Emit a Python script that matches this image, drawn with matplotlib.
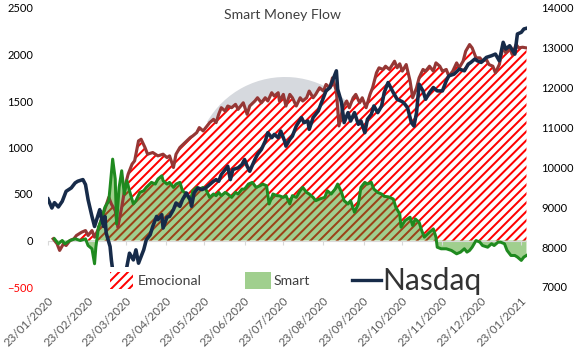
import matplotlib
matplotlib.use('Agg')
import matplotlib.pyplot as plt
from matplotlib.patches import Rectangle, Wedge
from matplotlib.lines import Line2D
from matplotlib.transforms import IdentityTransform, ScaledTranslation
import matplotlib.dates as mdates
import pandas as pd
import numpy as np

# ---------------- data ----------------
nasdaq_dates = ['2020-01-23','2020-01-26','2020-01-28','2020-01-31','2020-02-03','2020-02-06','2020-02-10','2020-02-13',
'2020-02-15','2020-02-19','2020-02-21','2020-02-23','2020-02-26','2020-02-28','2020-03-01','2020-03-03','2020-03-04',
'2020-03-06','2020-03-07','2020-03-08','2020-03-11','2020-03-12','2020-03-13','2020-03-16','2020-03-18','2020-03-20',
'2020-03-22','2020-03-24','2020-03-26','2020-03-29','2020-03-31','2020-04-02','2020-04-06','2020-04-08','2020-04-11',
'2020-04-13','2020-04-16','2020-04-17','2020-04-20','2020-04-21','2020-04-24','2020-04-26','2020-04-29','2020-05-01',
'2020-05-04','2020-05-06','2020-05-09','2020-05-12','2020-05-13','2020-05-15','2020-05-18','2020-05-21','2020-05-24',
'2020-05-27','2020-05-30','2020-06-01','2020-06-03','2020-06-05','2020-06-08','2020-06-10','2020-06-12','2020-06-14',
'2020-06-18','2020-06-21','2020-06-23','2020-06-25','2020-06-27','2020-07-01','2020-07-03','2020-07-06','2020-07-09',
'2020-07-11','2020-07-14','2020-07-16','2020-07-19','2020-07-21','2020-07-24','2020-07-25','2020-07-28','2020-07-30',
'2020-08-02','2020-08-06','2020-08-08','2020-08-11','2020-08-12','2020-08-15','2020-08-19','2020-08-23','2020-08-25',
'2020-08-28','2020-08-30','2020-09-02','2020-09-03','2020-09-06','2020-09-08','2020-09-11','2020-09-13','2020-09-16',
'2020-09-19','2020-09-21','2020-09-24','2020-09-26','2020-09-29','2020-10-01','2020-10-04','2020-10-07','2020-10-09',
'2020-10-12','2020-10-16','2020-10-19','2020-10-23','2020-10-25','2020-10-27','2020-10-30','2020-11-01','2020-11-03',
'2020-11-05','2020-11-08','2020-11-10','2020-11-13','2020-11-16','2020-11-19','2020-11-23','2020-11-26','2020-11-28',
'2020-12-02','2020-12-06','2020-12-10','2020-12-13','2020-12-15','2020-12-18','2020-12-20','2020-12-23','2020-12-27',
'2020-12-31','2021-01-03','2021-01-06','2021-01-09','2021-01-11','2021-01-14','2021-01-18','2021-01-20','2021-01-23',
'2021-01-25','2021-01-27']
nasdaq_vals = [9209,8982,9116,9008,9149,9401,9486,9612,
9653,9695,9570,9191,8771,8519,8730,8940,8771,
8519,8771,8353,8015,7680,7428,7150,7050,7000,
7200,7511,7848,7680,7932,7597,7932,8184,8310,
8519,8771,8688,8814,8480,8750,8771,8940,9108,
9024,9191,9360,9191,9024,9360,9486,9443,9486,
9569,9653,9695,9653,9821,9947,10030,9695,9947,
9990,10073,10199,10030,9904,10199,10325,10451,10660,
10872,10746,10829,10746,10912,10660,10534,10703,10786,
11038,11250,11124,11164,10955,11250,11416,11753,11920,
12005,12172,12424,11962,11628,11124,11375,11164,11375,
11081,11164,10872,11207,11333,11542,11375,11542,11879,
12130,11879,11710,11650,11585,11501,11124,11038,11375,
12088,11920,11710,11879,12005,11920,11920,12172,12298,
12340,12466,12424,12592,12635,12718,12676,12635,12761,
12803,12844,12676,13139,12970,13053,12844,13348,13390,
13474,13491]

emo_dates = ['2020-01-27','2020-01-30','2020-02-01','2020-02-04','2020-02-06','2020-02-09','2020-02-12','2020-02-14',
'2020-02-18','2020-02-21','2020-02-23','2020-02-26','2020-02-28','2020-03-02','2020-03-04','2020-03-07','2020-03-10',
'2020-03-12','2020-03-15','2020-03-17','2020-03-20','2020-03-23','2020-03-25','2020-03-28','2020-03-30','2020-04-02',
'2020-04-04','2020-04-07','2020-04-09','2020-04-13','2020-04-17','2020-04-21','2020-04-24','2020-04-26','2020-04-29',
'2020-05-01','2020-05-04','2020-05-08','2020-05-12','2020-05-14','2020-05-17','2020-05-19','2020-05-22','2020-05-24',
'2020-05-27','2020-05-30','2020-06-01','2020-06-03','2020-06-05','2020-06-08','2020-06-10','2020-06-13','2020-06-16',
'2020-06-18','2020-06-22','2020-06-25','2020-06-27','2020-07-01','2020-07-03','2020-07-06','2020-07-09','2020-07-11',
'2020-07-14','2020-07-16','2020-07-19','2020-07-20','2020-07-23','2020-07-25','2020-07-28','2020-07-30','2020-08-02',
'2020-08-05','2020-08-07','2020-08-10','2020-08-12','2020-08-15','2020-08-17','2020-08-20','2020-08-23','2020-08-25',
'2020-08-28','2020-08-30','2020-09-02','2020-09-04','2020-09-07','2020-09-10','2020-09-12','2020-09-15','2020-09-17',
'2020-09-20','2020-09-22','2020-09-25','2020-09-28','2020-09-30','2020-10-03','2020-10-05','2020-10-08','2020-10-10',
'2020-10-13','2020-10-17','2020-10-19','2020-10-21','2020-10-23','2020-10-26','2020-10-29','2020-10-31','2020-11-03',
'2020-11-05','2020-11-08','2020-11-10','2020-11-13','2020-11-16','2020-11-18','2020-11-21','2020-11-23','2020-11-26',
'2020-11-28','2020-12-01','2020-12-04','2020-12-06','2020-12-09','2020-12-11','2020-12-14','2020-12-16','2020-12-19',
'2020-12-22','2020-12-24','2020-12-27','2020-12-29','2021-01-01','2021-01-03','2021-01-06','2021-01-09','2021-01-11',
'2021-01-14','2021-01-16','2021-01-19','2021-01-21','2021-01-24','2021-01-27']
emo_vals = [18,-35,-107,-35,-54,0,18,54,
89,107,54,107,36,125,214,340,464,
393,321,143,357,607,714,821,857,1071,
1089,1000,928,946,910,928,892,910,785,
928,1000,1053,1107,1125,1160,1214,1178,1214,
1267,1303,1267,1357,1428,1392,1446,1428,1464,
1410,1481,1357,1446,1500,1535,1481,1535,1500,
1589,1553,1589,1500,1571,1446,1571,1535,1446,
1535,1500,1535,1607,1535,1571,1642,1607,1678,
1642,1749,1607,1232,1428,1500,1428,1535,1571,
1481,1535,1428,1571,1642,1803,1857,1839,1874,
1839,1928,1857,1900,1821,1892,1714,1535,1642,
1749,1839,1821,1874,1821,1910,1874,1821,1839,
1767,1821,1910,1857,1928,2035,2107,2071,1964,
1964,1928,1946,1892,1874,1803,1892,2089,2017,
2071,2000,2107,2071,2078,2071]

smart_dates = ['2020-01-28','2020-01-31','2020-02-03','2020-02-05','2020-02-09','2020-02-13','2020-02-17','2020-02-21',
'2020-02-23','2020-02-26','2020-02-28','2020-02-29','2020-03-02','2020-03-04','2020-03-07','2020-03-10','2020-03-11',
'2020-03-13','2020-03-15','2020-03-16','2020-03-18','2020-03-20','2020-03-22','2020-03-24','2020-03-26','2020-03-29',
'2020-03-31','2020-04-03','2020-04-06','2020-04-08','2020-04-12','2020-04-15','2020-04-17','2020-04-20','2020-04-21',
'2020-04-24','2020-04-26','2020-04-29','2020-05-01','2020-05-04','2020-05-06','2020-05-09','2020-05-12','2020-05-14',
'2020-05-17','2020-05-19','2020-05-22','2020-05-24','2020-05-27','2020-05-30','2020-06-01','2020-06-03','2020-06-05',
'2020-06-08','2020-06-10','2020-06-13','2020-06-16','2020-06-18','2020-06-21','2020-06-23','2020-06-26','2020-06-29',
'2020-07-02','2020-07-05','2020-07-07','2020-07-10','2020-07-12','2020-07-15','2020-07-18','2020-07-20','2020-07-23',
'2020-07-25','2020-07-28','2020-07-30','2020-08-02','2020-08-05','2020-08-07','2020-08-10','2020-08-12','2020-08-15',
'2020-08-17','2020-08-20','2020-08-24','2020-08-26','2020-08-29','2020-09-01','2020-09-03','2020-09-06','2020-09-08',
'2020-09-11','2020-09-13','2020-09-16','2020-09-19','2020-09-21','2020-09-24','2020-09-26','2020-09-29','2020-10-01',
'2020-10-04','2020-10-07','2020-10-09','2020-10-12','2020-10-16','2020-10-18','2020-10-21','2020-10-22','2020-10-25',
'2020-10-29','2020-10-31','2020-11-02','2020-11-05','2020-11-07','2020-11-09','2020-11-13','2020-11-16','2020-11-18',
'2020-11-19','2020-11-22','2020-11-26','2020-11-30','2020-12-04','2020-12-07','2020-12-10','2020-12-12','2020-12-14',
'2020-12-16','2020-12-19','2020-12-22','2020-12-24','2020-12-28','2020-12-31','2021-01-02','2021-01-05','2021-01-07',
'2021-01-10','2021-01-12','2021-01-15','2021-01-18','2021-01-20','2021-01-23','2021-01-25','2021-01-27']
smart_vals = [18,-35,0,-35,0,18,0,18,
-54,-89,-250,-72,143,214,357,428,571,
875,661,178,571,750,500,643,535,393,
428,517,535,571,625,607,661,696,643,
607,625,571,607,625,535,500,428,535,
571,553,571,553,464,500,482,517,482,
517,500,464,517,500,553,553,607,625,
571,589,607,589,393,500,482,480,464,
482,393,482,464,535,571,517,500,464,
428,446,464,535,500,553,607,517,428,
393,428,303,393,571,625,607,625,553,
517,500,475,470,446,357,285,143,214,
250,161,232,196,107,36,89,125,36,
-72,-89,-89,-107,-143,-125,-89,-125,-107,
-72,0,-18,-54,-72,-35,-54,-18,-18,
-35,-107,-161,-161,-178,-214,-178,-161]

left_ticks = [-500, 0, 500, 1000, 1500, 2000, 2500]
right_ticks = [7000, 8000, 9000, 10000, 11000, 12000, 13000, 14000]
date_ticks = pd.date_range('2020-01-23', periods=13, freq=pd.DateOffset(months=1))
x_range = ['2020-01-23', '2021-01-27 10:00']
series_names = ['Emocional', 'Smart', 'Nasdaq']
title = 'Smart Money Flow'

assert len(nasdaq_dates) == len(nasdaq_vals)
assert len(emo_dates) == len(emo_vals)
assert len(smart_dates) == len(smart_vals)

# ---------------- style ----------------
plt.rcParams['font.family'] = ['Lato', 'DejaVu Sans']
plt.rcParams['hatch.linewidth'] = 1.8

W, H, DPI = 575, 353, 80
C_EMO_LINE = '#953735'
C_HATCH = '#ff0000'
C_SMART_FILL = '#a0cf8e'
C_SMART_LINE = '#1f8a1f'
C_OVER_HATCH = '#9b4318'
C_NAS = '#172b49'
C_AXIS = '#d9d9d9'
HATCH = '///'

fig = plt.figure(figsize=(W / DPI, H / DPI), dpi=DPI)
fig.patch.set_facecolor('white')

def fx(px):
    return px / W

def fy(py):
    return 1 - py / H

ax = fig.add_axes([fx(48), fy(287), fx(527) - fx(48), fy(8) - fy(287)])
ax.patch.set_visible(False)
ax2 = ax.twinx()

# faint background logo
wm = Wedge((285, H - 167), 90, 20, 150, width=45, transform=IdentityTransform(),
           facecolor='#d6d9de', edgecolor='none', zorder=-1)
fig.add_artist(wm)

ed = pd.to_datetime(emo_dates)
ev = np.array(emo_vals, dtype=float)
sd = pd.to_datetime(smart_dates)
sv = np.array(smart_vals, dtype=float)
nd = pd.to_datetime(nasdaq_dates)
nv = np.array(nasdaq_vals, dtype=float)

ax.fill_between(ed, 0, ev, facecolor='white', edgecolor=C_HATCH, hatch=HATCH, linewidth=0, zorder=1)
smart_fill = ax.fill_between(sd, 0, sv, facecolor=C_SMART_FILL, edgecolor='none', linewidth=0, zorder=2)
over = ax.fill_between(ed, 0, ev, facecolor='none', edgecolor=C_OVER_HATCH, hatch=HATCH, linewidth=0, zorder=3)
over.set_clip_path(smart_fill.get_paths()[0], ax.transData)

ax.axhline(0, color=C_AXIS, lw=1, zorder=4)
ax.plot(date_ticks, np.zeros(len(date_ticks)), linestyle='none', marker=3, ms=4, mew=1,
        color=C_AXIS, clip_on=False, zorder=4)

ax.plot(ed, ev, color=C_EMO_LINE, lw=2.8, zorder=5, solid_joinstyle='round')
ax.plot(sd, sv, color=C_SMART_LINE, lw=2.7, zorder=6, solid_joinstyle='round')
ax2.plot(nd, nv, color=C_NAS, lw=3.2, solid_joinstyle='round')

ax.set_xlim(pd.Timestamp(x_range[0]), pd.Timestamp(x_range[1]))
ax.set_ylim(left_ticks[0], left_ticks[-1])
ax2.set_ylim(right_ticks[0], right_ticks[-1])
ax.set_yticks(left_ticks)
ax2.set_yticks(right_ticks)
ax.set_xticks(date_ticks)
ax.xaxis.set_major_formatter(mdates.DateFormatter('%d/%m/%Y'))

for a in (ax, ax2):
    for sp in a.spines.values():
        sp.set_visible(False)

ax.tick_params(axis='y', length=0, pad=13.5, labelsize=10, labelcolor='black')
ax2.tick_params(axis='y', length=0, pad=12.6, labelsize=10, labelcolor='black')
ax.tick_params(axis='x', length=0, pad=11, labelsize=10.5, labelcolor='#595959')
shift = ScaledTranslation(3.5 / DPI, 0, fig.dpi_scale_trans)
for lab in ax.get_xticklabels():
    lab.set_rotation(45)
    lab.set_ha('right')
    lab.set_va('center')
    lab.set_rotation_mode('anchor')
    lab.set_transform(lab.get_transform() + shift)
ax.get_yticklabels()[0].set_color('red')

# title
fig.text(fx(283), fy(15), title, ha='center', va='center', fontsize=12.6, color='#404040')

# legend (drawn in figure pixels)
fig.add_artist(Rectangle((fx(104), fy(297)), fx(485) - fx(104), fy(267) - fy(297),
                         transform=fig.transFigure, facecolor='white', edgecolor='none', zorder=10))
fig.add_artist(Rectangle((fx(110), fy(289)), fx(133) - fx(110), fy(272) - fy(289),
                         transform=fig.transFigure, facecolor='white', edgecolor=C_HATCH,
                         hatch=HATCH, linewidth=0, zorder=11))
fig.text(fx(138), fy(281), series_names[0], ha='left', va='center', fontsize=12.6, color='#404040', zorder=11)
fig.add_artist(Rectangle((fx(245), fy(289)), fx(271) - fx(245), fy(272) - fy(289),
                         transform=fig.transFigure, facecolor=C_SMART_FILL, edgecolor='none',
                         linewidth=0, zorder=11))
fig.text(fx(274), fy(281), series_names[1], ha='left', va='center', fontsize=12.6, color='#404040', zorder=11)
fig.add_artist(Line2D([fx(352), fx(381)], [fy(280), fy(280)], transform=fig.transFigure,
                      color=C_NAS, lw=3.0, zorder=11))
fig.text(fx(382), fy(281), series_names[2], ha='left', va='center', fontsize=27, color='#333333', zorder=11)

fig.savefig('out.png', dpi=DPI)
